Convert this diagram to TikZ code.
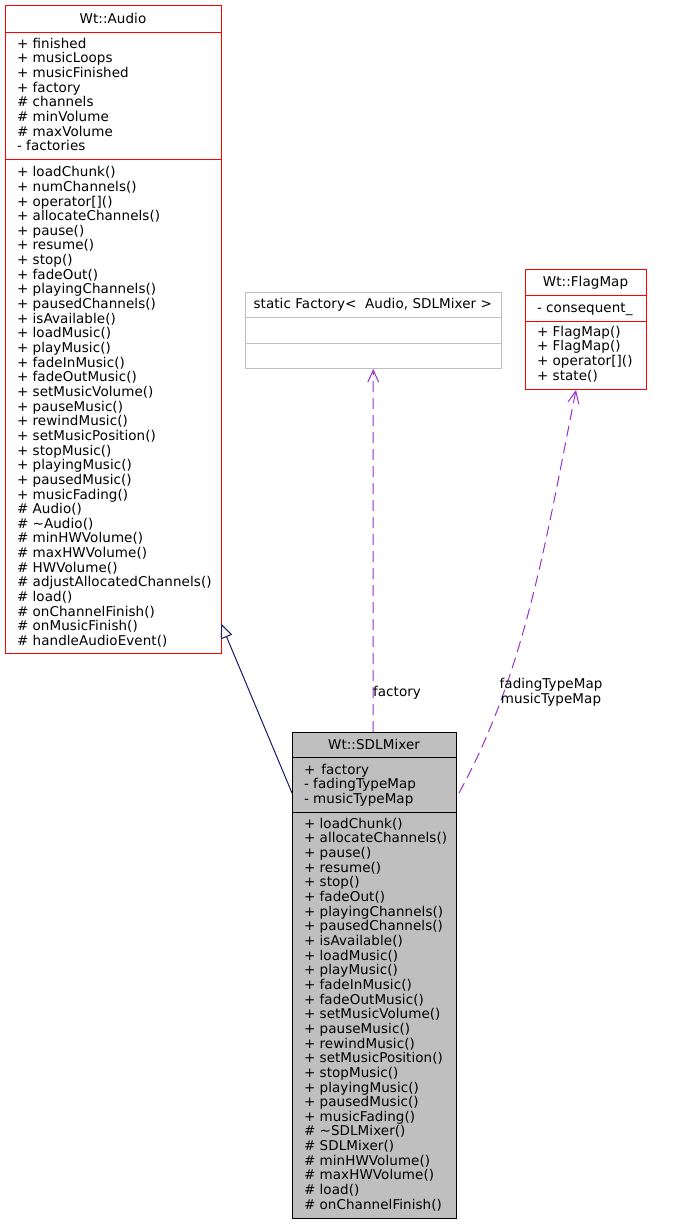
\documentclass[tikz,border=0pt]{standalone}
\usepackage{fontspec}
\setmainfont[LetterSpace=0.5]{DejaVu Sans}
\usetikzlibrary{arrows.meta,calc}
\definecolor{dred}{HTML}{FF0000}
\definecolor{gsev}{HTML}{BFBFBF}
\definecolor{mblue}{HTML}{191970}
\definecolor{orchid}{HTML}{9A32CD}
\newcommand\umlrows[4]{\foreach \t [count=\i] in {#4}{\node[rowtxt] (#1\i) at (#2,{#3+14.65*(\i-1)}) {\t};}}
\begin{document}
\begin{tikzpicture}[x=1pt,y=-1pt,line width=1pt,
  rowtxt/.style={anchor=base west,inner sep=0pt,font=\fontsize{13.5}{14.65}\selectfont},
  ttl/.style={anchor=base,inner sep=0pt,font=\fontsize{13.5}{14.65}\selectfont},
  lbl/.style={anchor=base,inner sep=0pt,font=\fontsize{13.5}{14.65}\selectfont},
  box/.style={rectangle,inner sep=0pt,outer sep=0pt,anchor=north west,line width=1pt},
  inh/.style={mblue,-{Triangle[open,length=14.6pt,width=12pt]}},
  dep/.style={orchid,dash pattern=on 11pt off 6pt,-{Straight Barb[length=12pt,width=11pt]}}]
\useasboundingbox (0,0) rectangle (692,1224);
\fill[white] (0,0) rectangle (692,1224);

% ---------- Wt::Audio ----------
\node[box,draw=dred,minimum width=216pt,minimum height=648pt] (audio) at (5,5) {};
\draw[dred] ($(audio.north west)+(0,27)$) -- ($(audio.north east)+(0,27)$);
\draw[dred] ($(audio.north west)+(0,154)$) -- ($(audio.north east)+(0,154)$);
\node[ttl] (audiot) at ($(audio.north)+(0,18.3)$) {Wt::Audio};
\umlrows{aa}{16.5}{48.3}{+ finished,+ musicLoops,+ musicFinished,+ factory,\# channels,\# minVolume,\# maxVolume,- factories}
\umlrows{am}{16.5}{176.7}{+ loadChunk(),+ numChannels(),+ operator[](),+ allocateChannels(),+ pause(),+ resume(),+ stop(),+ fadeOut(),+ playingChannels(),+ pausedChannels(),+ isAvailable(),+ loadMusic(),+ playMusic(),+ fadeInMusic(),+ fadeOutMusic(),+ setMusicVolume(),+ pauseMusic(),+ rewindMusic(),+ setMusicPosition(),+ stopMusic(),+ playingMusic(),+ pausedMusic(),+ musicFading(),\# Audio(),\# \textasciitilde{}Audio(),\# minHWVolume(),\# maxHWVolume(),\# HWVolume(),\# adjustAllocatedChannels(),\# load(),\# onChannelFinish(),\# onMusicFinish(),\# handleAudioEvent()}

% ---------- static Factory ----------
\node[box,draw=gsev,minimum width=256.5pt,minimum height=76pt] (factory) at (245,292) {};
\draw[gsev] ($(factory.north west)+(0,25)$) -- ($(factory.north east)+(0,25)$);
\draw[gsev] ($(factory.north west)+(0,51)$) -- ($(factory.north east)+(0,51)$);
\node[ttl] (factoryt) at ($(factory.north)+(-0.5,16)$) {static Factory<\ \ Audio, SDLMixer >};

% ---------- Wt::FlagMap ----------
\node[box,draw=dred,minimum width=121pt,minimum height=120pt] (flag) at (525,269) {};
\draw[dred] ($(flag.north west)+(0,26)$) -- ($(flag.north east)+(0,26)$);
\draw[dred] ($(flag.north west)+(0,52)$) -- ($(flag.north east)+(0,52)$);
\node[ttl] (flagt) at ($(flag.north)+(0,17.7)$) {Wt::FlagMap};
\umlrows{fa}{536.5}{312}{- consequent\_}
\umlrows{fm}{536.5}{336.3}{+ FlagMap(),+ FlagMap(),+ operator[](),+ state()}

% ---------- Wt::SDLMixer ----------
\node[box,draw=black,fill=gsev,minimum width=164pt,minimum height=486pt] (mixer) at (292,732) {};
\draw[black] ($(mixer.north west)+(0,25)$) -- ($(mixer.north east)+(0,25)$);
\draw[black] ($(mixer.north west)+(0,80)$) -- ($(mixer.north east)+(0,80)$);
\node[ttl] (mixert) at ($(mixer.north)+(0,17.5)$) {Wt::SDLMixer};
\umlrows{ma}{303.5}{774}{+\hspace{1.6pt} factory,- fadingTypeMap,- musicTypeMap}
\umlrows{mm}{303.5}{828.3}{+ loadChunk(),+ allocateChannels(),+ pause(),+ resume(),+ stop(),+ fadeOut(),+ playingChannels(),+ pausedChannels(),+ isAvailable(),+ loadMusic(),+ playMusic(),+ fadeInMusic(),+ fadeOutMusic(),+ setMusicVolume(),+ pauseMusic(),+ rewindMusic(),+ setMusicPosition(),+ stopMusic(),+ playingMusic(),+ pausedMusic(),+ musicFading(),\# \textasciitilde{}SDLMixer(),\# SDLMixer(),\# minHWVolume(),\# maxHWVolume(),\# load(),\# onChannelFinish()}

% ---------- connectors ----------
\draw[inh] ($(mixer.north west)+(0,61)$) -- ($(audio.south east)+(0,-29.5)$);
\draw[dep] ($(mixer.north)+(-1,0)$) -- ($(factory.south)+(0,1)$);
\draw[dep] ($(mixer.north east)+(3,61)$) .. controls (525,673) and (546,540) .. ($(flag.south)+(-9.5,1)$);

\node[lbl] (lfactory) at (397,696) {factory};
\node[lbl] (lfading) at (551,688.3) {fadingTypeMap};
\node[lbl] (lmusic) at (551,703.3) {musicTypeMap};
\end{tikzpicture}
\end{document}
